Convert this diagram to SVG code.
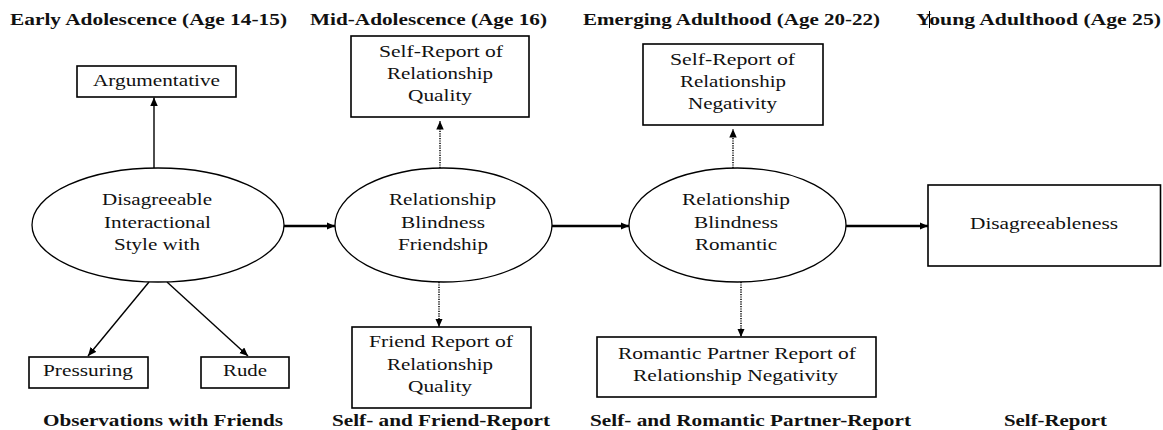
<svg xmlns="http://www.w3.org/2000/svg" width="1163" height="430" viewBox="0 0 1163 430">
<style>
text{font-family:"Liberation Serif","Times New Roman",serif;fill:#111;}
.h{font-weight:bold;font-size:16.5px;}
.t{font-size:17px;}
.box{fill:#fff;stroke:#000;stroke-width:1.6;}
.ell{fill:#fff;stroke:#000;stroke-width:1.3;}
.solid{stroke:#000;stroke-width:1.4;fill:none;}
.thick{stroke:#000;stroke-width:2.6;fill:none;}
.dot{stroke:#000;stroke-width:1.5;stroke-dasharray:1.2 1.2;fill:none;}
</style>
<defs>
<marker id="ah" markerUnits="userSpaceOnUse" markerWidth="9" markerHeight="8" refX="8.5" refY="3.75" orient="auto">
<path d="M0,0 L8.5,3.75 L0,7.5 z" fill="#000"/>
</marker>
</defs>
<rect width="1163" height="430" fill="#fff"/>
<g id="headers">
<text class="h" x="10" y="25" textLength="277" lengthAdjust="spacingAndGlyphs">Early Adolescence (Age 14-15)</text>
<text class="h" x="310" y="25" textLength="237" lengthAdjust="spacingAndGlyphs">Mid-Adolescence (Age 16)</text>
<text class="h" x="583" y="25" textLength="297" lengthAdjust="spacingAndGlyphs">Emerging Adulthood (Age 20-22)</text>
<text class="h" x="916" y="25" textLength="245" lengthAdjust="spacingAndGlyphs">Young Adulthood (Age 25)</text>
<line x1="929.5" y1="11" x2="929.5" y2="28" stroke="#000" stroke-width="1"/>
</g>
<g id="footers">
<text class="h" x="43" y="426" textLength="240" lengthAdjust="spacingAndGlyphs">Observations with Friends</text>
<text class="h" x="332" y="426" textLength="218" lengthAdjust="spacingAndGlyphs">Self- and Friend-Report</text>
<text class="h" x="590" y="426" textLength="321" lengthAdjust="spacingAndGlyphs">Self- and Romantic Partner-Report</text>
<text class="h" x="1004" y="426" textLength="103" lengthAdjust="spacingAndGlyphs">Self-Report</text>
</g>
<g id="connectors">
<line class="solid" x1="154" y1="168" x2="154" y2="97.5" marker-end="url(#ah)"/>
<line class="solid" x1="149" y1="282" x2="88" y2="356" marker-end="url(#ah)"/>
<line class="solid" x1="167" y1="282" x2="248" y2="356" marker-end="url(#ah)"/>
<line class="thick" x1="284" y1="226" x2="335" y2="226" marker-end="url(#ah)"/>
<line class="thick" x1="552" y1="226" x2="629" y2="226" marker-end="url(#ah)"/>
<line class="thick" x1="846" y1="226" x2="928" y2="226" marker-end="url(#ah)"/>
<line class="dot" x1="440" y1="168" x2="440" y2="121" marker-end="url(#ah)"/>
<line class="dot" x1="439" y1="282" x2="439" y2="327" marker-end="url(#ah)"/>
<line class="dot" x1="733" y1="168" x2="733" y2="129" marker-end="url(#ah)"/>
<line class="dot" x1="741" y1="282" x2="741" y2="337" marker-end="url(#ah)"/>
</g>
<g id="argumentative">
<rect class="box" x="77" y="66" width="159" height="31"/>
<text class="t" x="93" y="86" textLength="127" lengthAdjust="spacingAndGlyphs">Argumentative</text>
</g>
<g id="disagreeable-style">
<ellipse class="ell" cx="158" cy="225" rx="126" ry="57"/>
<text class="t" x="102" y="205" textLength="110" lengthAdjust="spacingAndGlyphs">Disagreeable</text>
<text class="t" x="104" y="228" textLength="107" lengthAdjust="spacingAndGlyphs">Interactional</text>
<text class="t" x="114" y="250" textLength="86" lengthAdjust="spacingAndGlyphs">Style with</text>
</g>
<g id="pressuring">
<rect class="box" x="29" y="357" width="119" height="31"/>
<text class="t" x="43" y="376" textLength="90" lengthAdjust="spacingAndGlyphs">Pressuring</text>
</g>
<g id="rude">
<rect class="box" x="201" y="357" width="88" height="31"/>
<text class="t" x="223" y="376" textLength="44" lengthAdjust="spacingAndGlyphs">Rude</text>
</g>
<g id="self-report-quality">
<rect class="box" x="351" y="36" width="178" height="81"/>
<text class="t" x="379" y="57" textLength="124" lengthAdjust="spacingAndGlyphs">Self-Report of</text>
<text class="t" x="387" y="79" textLength="106" lengthAdjust="spacingAndGlyphs">Relationship</text>
<text class="t" x="408" y="101" textLength="64" lengthAdjust="spacingAndGlyphs">Quality</text>
</g>
<g id="blindness-friendship">
<ellipse class="ell" cx="443.5" cy="225" rx="108.5" ry="57"/>
<text class="t" x="389" y="205" textLength="107" lengthAdjust="spacingAndGlyphs">Relationship</text>
<text class="t" x="401" y="228" textLength="84" lengthAdjust="spacingAndGlyphs">Blindness</text>
<text class="t" x="398" y="250" textLength="90" lengthAdjust="spacingAndGlyphs">Friendship</text>
</g>
<g id="friend-report-quality">
<rect class="box" x="352" y="327" width="179" height="81"/>
<text class="t" x="369" y="347" textLength="144" lengthAdjust="spacingAndGlyphs">Friend Report of</text>
<text class="t" x="387" y="370" textLength="106" lengthAdjust="spacingAndGlyphs">Relationship</text>
<text class="t" x="408" y="392" textLength="64" lengthAdjust="spacingAndGlyphs">Quality</text>
</g>
<g id="self-report-negativity">
<rect class="box" x="643" y="44" width="180" height="81"/>
<text class="t" x="670" y="65" textLength="125" lengthAdjust="spacingAndGlyphs">Self-Report of</text>
<text class="t" x="680" y="87" textLength="106" lengthAdjust="spacingAndGlyphs">Relationship</text>
<text class="t" x="688" y="109" textLength="89" lengthAdjust="spacingAndGlyphs">Negativity</text>
</g>
<g id="blindness-romantic">
<ellipse class="ell" cx="737.5" cy="225" rx="108.5" ry="57"/>
<text class="t" x="682" y="205" textLength="108" lengthAdjust="spacingAndGlyphs">Relationship</text>
<text class="t" x="694" y="228" textLength="84" lengthAdjust="spacingAndGlyphs">Blindness</text>
<text class="t" x="695" y="250" textLength="82" lengthAdjust="spacingAndGlyphs">Romantic</text>
</g>
<g id="partner-report-negativity">
<rect class="box" x="597" y="337" width="279" height="60"/>
<text class="t" x="618" y="359" textLength="238" lengthAdjust="spacingAndGlyphs">Romantic Partner Report of</text>
<text class="t" x="633" y="381" textLength="205" lengthAdjust="spacingAndGlyphs">Relationship Negativity</text>
</g>
<g id="disagreeableness">
<rect class="box" x="928" y="185" width="232.5" height="81"/>
<text class="t" x="970" y="229" textLength="148" lengthAdjust="spacingAndGlyphs">Disagreeableness</text>
</g>
</svg>
